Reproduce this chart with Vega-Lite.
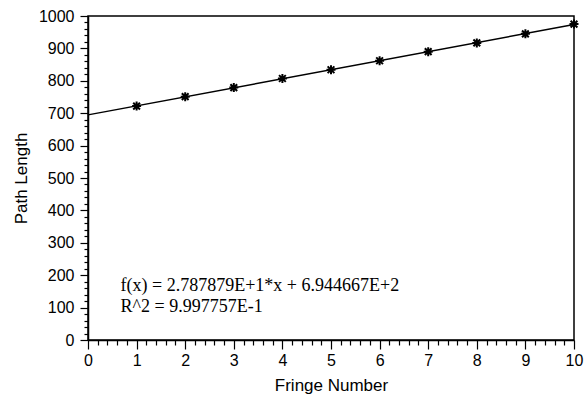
{
  "$schema": "https://vega.github.io/schema/vega-lite/v6.json",
  "width": 486,
  "height": 324,
  "autosize": "none",
  "padding": {"left": 88, "top": 16, "right": 10, "bottom": 56},
  "background": "white",
  "config": {
    "view": {"stroke": "black", "strokeWidth": 1.5},
    "axis": {
      "grid": false,
      "domainColor": "black",
      "domainWidth": 1.5,
      "tickColor": "black",
      "tickWidth": 1.2,
      "labelColor": "black",
      "titleColor": "black",
      "labelFont": "Liberation Sans",
      "labelFontSize": 16,
      "titleFont": "Liberation Sans",
      "titleFontSize": 17,
      "titleFontWeight": "normal"
    }
  },
  "datasets": {
    "points": [
      {"fringe": 1, "path": 722},
      {"fringe": 2, "path": 751},
      {"fringe": 3, "path": 779},
      {"fringe": 4, "path": 807},
      {"fringe": 5, "path": 834},
      {"fringe": 6, "path": 862},
      {"fringe": 7, "path": 890},
      {"fringe": 8, "path": 917},
      {"fringe": 9, "path": 945},
      {"fringe": 10, "path": 975}
    ],
    "notes": [
      {"fringe": 0.67, "path": 151, "label": "f(x) = 2.787879E+1*x + 6.944667E+2"},
      {"fringe": 0.67, "path": 86, "label": "R^2 = 9.997757E-1"}
    ]
  },
  "encoding": {
    "x": {
      "field": "fringe",
      "type": "quantitative",
      "scale": {"domain": [0, 10], "nice": false, "zero": false},
      "axis": {
        "title": "Fringe Number",
        "values": [0,0.2,0.4,0.6,0.8,1,1.2,1.4,1.6,1.8,2,2.2,2.4,2.6,2.8,3,3.2,3.4,3.6,3.8,4,4.2,4.4,4.6,4.8,5,5.2,5.4,5.6,5.8,6,6.2,6.4,6.6,6.8,7,7.2,7.4,7.6,7.8,8,8.2,8.4,8.6,8.8,9,9.2,9.4,9.6,9.8,10],
        "labelExpr": "abs(datum.value - round(datum.value)) < 0.001 ? format(datum.value, 'd') : ''",
        "tickSize": {"condition": {"test": "abs(datum.value - round(datum.value)) < 0.001", "value": 9}, "value": 5},
        "labelOverlap": false,
        "labelFlush": false,
        "labelPadding": 3,
        "titleX": 243,
        "titleY": 50,
        "titleBaseline": "alphabetic"
      }
    },
    "y": {
      "field": "path",
      "type": "quantitative",
      "scale": {"domain": [0, 1000], "nice": false},
      "axis": {
        "title": "Path Length",
        "values": [0,20,40,60,80,100,120,140,160,180,200,220,240,260,280,300,320,340,360,380,400,420,440,460,480,500,520,540,560,580,600,620,640,660,680,700,720,740,760,780,800,820,840,860,880,900,920,940,960,980,1000],
        "labelExpr": "datum.value % 100 === 0 ? format(datum.value, 'd') : ''",
        "tickSize": {"condition": {"test": "datum.value % 100 === 0", "value": 8}, "value": 4},
        "labelOverlap": false,
        "labelFlush": false,
        "labelPadding": 6,
        "titleX": -62,
        "titleY": 162,
        "titleAngle": -90,
        "titleAlign": "center",
        "titleBaseline": "alphabetic"
      }
    }
  },
  "layer": [
    {
      "data": {"name": "points"},
      "transform": [
        {"regression": "path", "on": "fringe", "method": "linear", "extent": [0, 10]}
      ],
      "mark": {"type": "line", "color": "black", "strokeWidth": 1.5}
    },
    {
      "data": {"name": "points"},
      "mark": {
        "type": "point",
        "shape": "M-1,0L1,0M0,-1L0,1M-0.75,-0.75L0.75,0.75M-0.75,0.75L0.75,-0.75",
        "filled": false,
        "stroke": "black",
        "strokeWidth": 2,
        "size": 81,
        "opacity": 1
      }
    },
    {
      "data": {"name": "notes"},
      "mark": {
        "type": "text",
        "align": "left",
        "baseline": "alphabetic",
        "font": "Liberation Serif",
        "fontSize": 18,
        "color": "black"
      },
      "encoding": {
        "text": {"field": "label"}
      }
    }
  ]
}
